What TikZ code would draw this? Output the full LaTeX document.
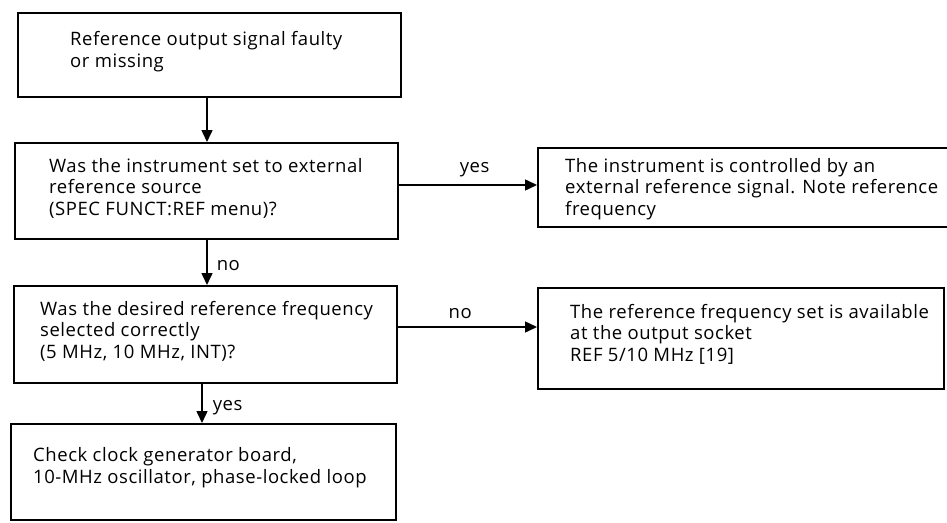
\documentclass[tikz,border=0pt]{standalone}
\usepackage{fontspec}
\setmainfont[LetterSpace=3]{Open Sans}
\usetikzlibrary{arrows.meta}
\begin{document}
\begin{tikzpicture}[x=1pt,y=-1pt,
  box/.style={draw, line width=1.5pt, inner sep=0pt, anchor=north west},
  % anchor base west: the given point is the baseline of the last line
  txt/.style={anchor=base west, align=left, inner sep=0pt, font=\fontsize{18.5}{21.5}\selectfont},
  lbl/.style={inner sep=0pt, font=\fontsize{18.5}{20}\selectfont},
  conn/.style={line width=1.5pt, -{Triangle[length=12pt,width=11pt]}}]
\clip (0,0) rectangle (947,522);
\fill[white] (0,0) rectangle (947,522);
% boxes
\node[box, minimum width=383pt, minimum height=84pt] (b1) at (17,12) {};
\node[box, minimum width=383pt, minimum height=96pt] (b2) at (14,142) {};
\node[box, minimum width=383pt, minimum height=97pt] (b3) at (13,285) {};
\node[box, minimum width=385pt, minimum height=96pt] (b4) at (10,423) {};
\node[box, minimum width=430pt, minimum height=79pt] (r1) at (537,147) {};
\node[box, minimum width=406pt, minimum height=101pt] (r2) at (537,287) {};
% texts
\node[txt] (t1) at (70,67) {Reference output signal faulty\\or missing};
\node[txt] (t2) at (49,215) {Was the instrument set to external\\reference source\\(SPEC FUNCT:REF menu)?};
\node[txt] (t3) at (40,358) {Was the desired reference frequency\\selected correctly\\(5 MHz, 10 MHz, INT)?};
\node[txt] (t4) at (33,483) {Check clock generator board,\\10-MHz oscillator, phase-locked loop};
\node[txt] (t5) at (565,215) {The instrument is controlled by an\\external reference signal. Note reference\\frequency};
\node[txt] (t6) at (570,361) {The reference frequency set is available\\at the output socket\\REF 5/10 MHz [19]};
% connectors
\draw[conn] (b1.south -| 207,0) -- (b2.north -| 207,0);
\draw[conn] (b2.south -| 207,0) -- (b3.north -| 207,0) node[lbl, pos=0.57, right=9pt] (n1) {no};
\draw[conn] (b3.south -| 202,0) -- (b4.north -| 202,0) node[lbl, pos=0.6, right=10pt] (n2) {yes};
\draw[conn] (b2.east |- 0,185) -- (r1.west |- 0,185) node[lbl, pos=0.55, above=7pt] (n3) {yes};
\draw[conn] (b3.east |- 0,327) -- (r2.west |- 0,327) node[lbl, pos=0.45, above=8pt] (n4) {no};
\end{tikzpicture}
\end{document}
